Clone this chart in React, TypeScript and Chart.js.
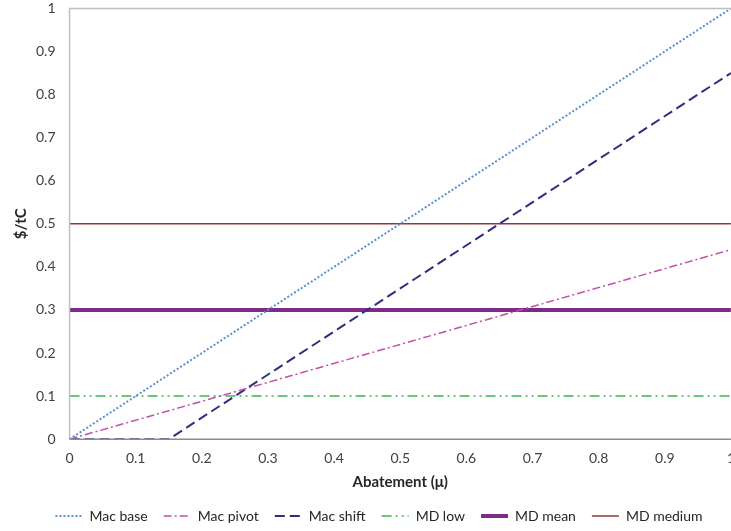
import React, { useEffect, useRef } from "react";
import { Chart, registerables } from "chart.js";

Chart.register(...registerables);

const seriesNames = ["Mac base", "Mac pivot", "Mac shift", "MD low", "MD mean", "MD medium"];
const macBaseX = [0, 1];
const macBaseY = [0, 1];
const macPivotX = [0, 1];
const macPivotY = [0, 0.44];
const macShiftX = [0, 0.15, 1];
const macShiftY = [0, 0, 0.85];
const mdX = [0, 1];
const mdLowY = [0.1, 0.1];
const mdMeanY = [0.3, 0.3];
const mdMediumY = [0.5, 0.5];

const colors = ["#5B8ED6", "#C250A8", "#2E2F82", "#3CB54A", "#7D2B86", "#8B3A3A"];
const widths = [2, 1.5, 2, 1.5, 4, 1.5];
const dashes: number[][] = [[2, 2], [8, 3, 2, 3], [10, 5], [10, 4, 2, 4, 2, 4], [], []];

const pts = (xs: number[], ys: number[]) => xs.map((x, i) => ({ x, y: ys[i] }));

const FONT = "Lato, 'Open Sans', sans-serif";
const fmt = (v: any) => String(Number(Number(v).toFixed(1)));

export default function App() {
  const ref = useRef<HTMLCanvasElement | null>(null);
  useEffect(() => {
    if (!ref.current) return;
    const series = [
      pts(macBaseX, macBaseY),
      pts(macPivotX, macPivotY),
      pts(macShiftX, macShiftY),
      pts(mdX, mdLowY),
      pts(mdX, mdMeanY),
      pts(mdX, mdMediumY),
    ];
    const borderPlugin = {
      id: "plotBorder",
      afterDraw(chart: any) {
        const { ctx, chartArea } = chart;
        ctx.save();
        ctx.strokeStyle = "#BFBFBF";
        ctx.lineWidth = 1.5;
        ctx.beginPath();
        ctx.moveTo(chartArea.left, chartArea.bottom);
        ctx.lineTo(chartArea.left, chartArea.top);
        ctx.lineTo(chartArea.right, chartArea.top);
        ctx.stroke();
        ctx.strokeStyle = "#8C8C8C";
        ctx.beginPath();
        ctx.moveTo(chartArea.left, chartArea.bottom);
        ctx.lineTo(chartArea.right, chartArea.bottom);
        ctx.stroke();
        ctx.restore();
      },
    };
    const chart = new Chart(ref.current, {
      type: "line",
      data: {
        datasets: series.map((d, i) => ({
          label: seriesNames[i],
          data: d,
          borderColor: colors[i],
          backgroundColor: colors[i],
          borderWidth: widths[i],
          borderDash: dashes[i],
          pointRadius: 0,
          fill: false,
          tension: 0,
        })),
      },
      options: {
        animation: false,
        responsive: false,
        layout: { padding: { left: 12, top: 2, right: 0, bottom: 0 } },
        scales: {
          x: {
            type: "linear",
            min: 0,
            max: 1,
            grid: { display: false, drawTicks: false },
            border: { display: false },
            ticks: { stepSize: 0.1, padding: 11, color: "#404040", font: { family: FONT, size: 14 }, callback: fmt },
            title: {
              display: true,
              text: "Abatement (μ)",
              color: "#262626",
              font: { family: FONT, size: 15, weight: "bold" },
              padding: { top: -5, bottom: 2 },
            },
          },
          y: {
            type: "linear",
            min: 0,
            max: 1,
            grid: { display: false, drawTicks: false },
            border: { display: false },
            ticks: { stepSize: 0.1, padding: 14, color: "#404040", font: { family: FONT, size: 14 }, callback: fmt },
            title: {
              display: true,
              text: "$/tC",
              color: "#262626",
              font: { family: FONT, size: 15, weight: "bold" },
              padding: { top: 0, bottom: -8 },
            },
          },
        },
        plugins: {
          tooltip: { enabled: false },
          legend: {
            position: "bottom",
            labels: {
              usePointStyle: true,
              pointStyleWidth: 27,
              boxHeight: 12,
              padding: 16,
              color: "#262626",
              font: { family: FONT, size: 14 },
              generateLabels: () =>
                seriesNames.map((name, i) => ({
                  text: name,
                  fillStyle: colors[i],
                  strokeStyle: colors[i],
                  lineWidth: widths[i],
                  lineDash: dashes[i],
                  pointStyle: "line",
                  hidden: false,
                  datasetIndex: i,
                  fontColor: "#262626",
                })),
            },
          },
        },
      },
      plugins: [borderPlugin],
    } as any);
    return () => chart.destroy();
  }, []);
  return (
    <div style={{ position: "fixed", left: 0, top: -14, width: 746, height: 547 }}>
      <canvas ref={ref} width={746} height={547} />
    </div>
  );
}
